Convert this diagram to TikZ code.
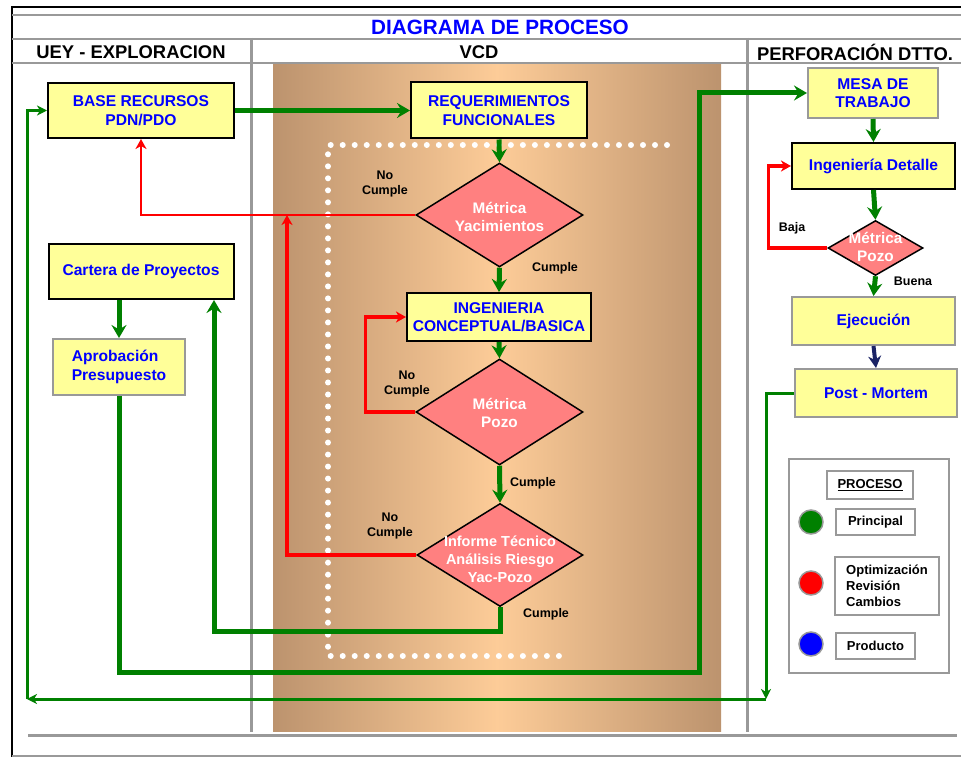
\documentclass[tikz,border=0pt]{standalone}
\usepackage{fontspec}
\setmainfont{Liberation Sans}
\usetikzlibrary{arrows.meta,shapes.geometric}

\definecolor{gline}{HTML}{999999}
\definecolor{pgreen}{HTML}{008000}
\definecolor{pred}{HTML}{FF0000}
\definecolor{pnavy}{HTML}{1A2366}
\definecolor{pblue}{HTML}{0000FF}
\definecolor{boxfill}{HTML}{FFFF99}
\definecolor{diafill}{HTML}{FF8080}
\definecolor{tanedge}{RGB}{188,147,110}
\definecolor{tanmid}{RGB}{253,204,152}

\newcommand\boxfnt{\fontsize{15.6}{18.5}\selectfont\bfseries}
\newcommand\diafnt{\fontsize{15.3}{18}\selectfont\bfseries}
\newcommand\lblfnt{\fontsize{12.5}{15}\selectfont\bfseries}
\newcommand\legfnt{\fontsize{13}{16}\selectfont\bfseries}

\tikzset{
  procbox/.style={draw=black, line width=2pt, fill=boxfill, text=pblue,
    font=\boxfnt, align=center, inner sep=0pt},
  procgray/.style={procbox, draw=gline},
  decision/.style={diamond, draw=black, line width=1.5pt, fill=diafill,
    inner sep=0pt},
  diatext/.style={text=white, font=\diafnt, align=center, inner sep=0pt},
  lbl/.style={font=\lblfnt, align=center, inner sep=0pt},
  legitem/.style={draw=gline, line width=1.5pt, fill=white, font=\legfnt,
    align=center, inner sep=0pt},
  legdot/.style={circle, draw=gline, line width=1.5pt, minimum size=24pt,
    inner sep=0pt},
  gmain/.style={draw=pgreen, line width=5pt,
    -{Stealth[length=13pt,width=15pt,inset=4.5pt]}},
  gthin/.style={draw=pgreen, line width=3pt,
    -{Stealth[length=10pt,width=10pt,inset=3pt]}},
  rloop/.style={draw=pred, line width=3.5pt,
    -{Stealth[length=10pt,width=11pt,inset=3pt]}},
  rthin/.style={rloop, line width=2.2pt},
  navy/.style={draw=pnavy, line width=4pt,
    -{Stealth[length=12pt,width=13pt,inset=4pt]}},
  frame/.style={draw=gline},
  whitedots/.style={draw=white, line width=6pt, line cap=round,
    dash pattern=on 0.01pt off 12pt},
}

\begin{document}
\begin{tikzpicture}[x=1pt,y=-1pt]
\useasboundingbox (0,0) rectangle (961,757);
\fill[white] (0,0) rectangle (961,757);

% shaded band of the VCD lane
\shade[left color=tanedge, right color=tanmid] (273,63) rectangle (497,731);
\shade[left color=tanmid, right color=tanedge] (497,63) rectangle (721,731);

% frame and lane grid
\draw[black, line width=2.5pt] (12,757) -- (12,7) -- (961,7);
\draw[frame, line width=1.5pt] (12,15) -- (961,15);
\draw[frame, line width=2pt] (12,39) -- (961,39);
\draw[frame, line width=2pt] (12,63) -- (961,63);
\draw[frame, line width=3pt] (251,38) -- (251,732);
\draw[frame, line width=3pt] (747,38) -- (747,732);
\draw[frame, line width=3pt] (28,735) -- (957,735);
\draw[frame, line width=1.5pt] (12,756) -- (961,756);

% titles
\node[text=pblue, font=\fontsize{20.7}{24}\selectfont\bfseries] (title) at (500,27) {DIAGRAMA DE PROCESO};
\node[font=\fontsize{18.4}{22}\selectfont\bfseries] (laneA) at (131,52) {UEY - EXPLORACION};
\node[font=\fontsize{18.4}{22}\selectfont\bfseries] (laneB) at (479,52) {VCD};
\node[font=\fontsize{18.4}{22}\selectfont\bfseries] (laneC) at (855,52) {PERFORACIÓN DTTO.};

% open dotted frame inside the VCD lane
\draw[whitedots] (667,145) -- (328,145) -- (328,656) -- (570,656);

% left lane
\node[procbox, minimum width=186pt, minimum height=55pt] (base) at (141,110.5) {BASE RECURSOS\\PDN/PDO};
\node[procbox, minimum width=185pt, minimum height=55pt] (cartera) at (141,271.5) {Cartera de Proyectos};
\node[procgray, minimum width=132pt, minimum height=56pt, align=left] (aprob) at (119,367) {Aprobación\\Presupuesto};

% VCD lane
\node[procbox, minimum width=176pt, minimum height=56pt] (req) at (499,110.5) {REQUERIMIENTOS\\FUNCIONALES};
\node[decision, minimum width=167pt, minimum height=104pt] (yac) at (499.5,215) {};
\node[diatext] (yact) at (499.5,217) {Métrica\\Yacimientos};
\node[procbox, minimum width=184pt, minimum height=48pt] (ing) at (499,317) {INGENIERIA\\CONCEPTUAL/BASICA};
\node[decision, minimum width=167pt, minimum height=106pt] (mpozo) at (499.5,412) {};
\node[diatext] (mpozot) at (499.5,413) {Métrica\\Pozo};
\node[decision, minimum width=166pt, minimum height=103pt] (inf) at (500,555) {};
\node[diatext, font=\fontsize{14.5}{18}\selectfont\bfseries] (inft) at (500,559) {Informe Técnico\\Análisis Riesgo\\Yac-Pozo};

% drilling lane
\node[procgray, minimum width=130pt, minimum height=50pt] (mesa) at (873,93) {MESA DE\\TRABAJO};
\node[procbox, minimum width=163pt, minimum height=46pt] (idet) at (873.5,166) {Ingeniería Detalle};
\node[decision, minimum width=95pt, minimum height=55pt] (smd) at (875.5,248) {};
\node[diatext] (smdt) at (875.5,247) {Métrica\\Pozo};
\node[procgray, minimum width=163pt, minimum height=48pt] (ejec) at (873.5,321) {Ejecución};
\node[procgray, minimum width=162pt, minimum height=48pt] (post) at (876,393) {Post - Mortem};

% main flow
\draw[gmain] (base.east) -- (req.west);
\draw[gmain] (req.south) -- (yac.north);
\draw[gmain] (yac.south) -- (ing.north);
\draw[gmain] (ing.south) -- (mpozo.north);
\draw[gmain] (mpozo.south) -- (inf.north);
\draw[gmain] (inf.south) -- (inf.south |- 0,631) -| ([xshift=73pt]cartera.south);
\draw[gmain] (cartera.south -| aprob.north) -- (aprob.north);
\draw[gmain] (aprob.south) |- (699,672) |- (mesa.west);
\draw[gmain] (mesa.south) -- (idet.north);
\draw[gmain] (idet.south) -- (smd.north);
\draw[gmain] (smd.south) -- (ejec.north);
\draw[navy] (ejec.south) -- (post.north);

% return loop from Post - Mortem
\coordinate (rbot) at (766,699);
\coordinate (lbot) at (27,699);
\draw[gthin] (post.west) -| (rbot);
\draw[gthin] (rbot) -- (lbot);
\draw[gthin] (lbot) |- (base.west);

% revision loops
\coordinate (rj) at (287,215);
\draw[rthin] (yac.west) -| (base.south);
\draw[rloop] (inf.west) -| (rj);
\draw[rloop] (mpozo.west) -- ++(-50,0) |- (ing.west);
\draw[rloop] (smd.west) -- ++(-59,0) |- (idet.west);

% branch labels
\node[lbl] (l1) at (385,184) {No\\Cumple};
\node[lbl] (l2) at (555,268) {Cumple};
\node[lbl] (l3) at (407,384) {No\\Cumple};
\node[lbl] (l4) at (533,483) {Cumple};
\node[lbl] (l5) at (390,526) {No\\Cumple};
\node[lbl] (l6) at (546,614) {Cumple};
\node[lbl] (l7) at (792,228) {Baja};
\node[lbl] (l8) at (913,281) {Buena};

% legend
\node[draw=gline, line width=2pt, fill=white, minimum width=160pt, minimum height=214pt] (leg) at (869,566) {};
\node[legitem, minimum width=86pt, minimum height=28pt] (legt) at (870,485) {\underline{PROCESO}};
\node[legdot, fill=pgreen] (dg) at (811,522) {};
\node[legitem, minimum width=79pt, minimum height=26pt] (lgp) at (875.5,522) {Principal};
\node[legdot, fill=pred] (dr) at (811,583) {};
\node[legitem, minimum width=104pt, minimum height=58pt, align=left] (lgo) at (887,586) {Optimización\\Revisión\\Cambios};
\node[legdot, fill=pblue] (db) at (811,644) {};
\node[legitem, minimum width=79pt, minimum height=26pt] (lgb) at (875.5,646) {Producto};
\end{tikzpicture}
\end{document}
